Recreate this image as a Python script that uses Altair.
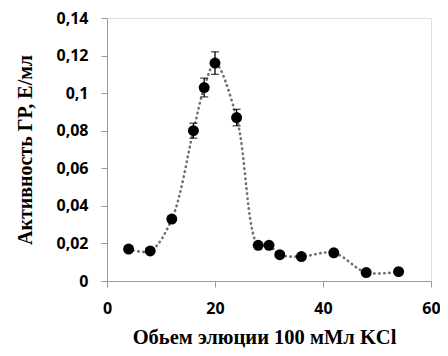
import altair as alt
import pandas as pd

volume = [4, 8, 12, 16, 18, 20, 24, 28, 30, 32, 36, 42, 48, 54]
activity = [0.017, 0.016, 0.033, 0.080, 0.103, 0.116, 0.087, 0.019, 0.019, 0.014, 0.013, 0.015, 0.0045, 0.005]
error = [0.0, 0.0, 0.0, 0.004, 0.005, 0.006, 0.0044, 0.0, 0.0, 0.0, 0.0, 0.0, 0.0, 0.0]

y_ticks = [0, 0.02, 0.04, 0.06, 0.08, 0.10, 0.12, 0.14]
x_ticks = [0, 20, 40, 60]

df = pd.DataFrame({"v": volume, "a": activity, "e": error})
df["lo"] = df["a"] - df["e"]
df["hi"] = df["a"] + df["e"]
err_df = df[df["e"] > 0]

x_scale = alt.Scale(domain=[0, 60], nice=False, zero=True)
y_scale = alt.Scale(domain=[0, 0.14], nice=False)

x_axis = alt.Axis(values=x_ticks, title="Обьем элюции 100 мМл KCl",
                  labelPadding=13, titlePadding=11, labelOverlap=False,
                  titleX=157, titleAlign="center", titleFontSize=20.5)
y_axis = alt.Axis(values=y_ticks, title="Активность ГР, Е/мл",
                  labelExpr="replace(format(datum.value, '~g'), '.', ',')",
                  labelPadding=13, titlePadding=20, labelOverlap=False)

base = alt.Chart(df)

line = base.mark_line(interpolate="catmull-rom", color="#707070", strokeWidth=2.6,
                      strokeDash=[0.5, 4.5], strokeCap="round").encode(
    x=alt.X("v:Q", scale=x_scale, axis=x_axis),
    y=alt.Y("a:Q", scale=y_scale, axis=y_axis),
)

rules = alt.Chart(err_df).mark_rule(color="black", strokeWidth=1.3).encode(
    x=alt.X("v:Q", axis=x_axis), y=alt.Y("lo:Q", axis=y_axis), y2="hi:Q")
caps_hi = alt.Chart(err_df).mark_tick(color="black", thickness=1.3, size=8, orient="horizontal").encode(
    x=alt.X("v:Q", axis=x_axis), y=alt.Y("hi:Q", axis=y_axis))
caps_lo = alt.Chart(err_df).mark_tick(color="black", thickness=1.3, size=8, orient="horizontal").encode(
    x=alt.X("v:Q", axis=x_axis), y=alt.Y("lo:Q", axis=y_axis))

points = base.mark_point(filled=True, shape="circle", color="black", size=120, opacity=1).encode(
    x=alt.X("v:Q", axis=x_axis), y=alt.Y("a:Q", axis=y_axis))

chart = alt.layer(line, rules, caps_hi, caps_lo, points).properties(
    width=324, height=263,
    autosize=alt.AutoSizeParams(type="none"),
    padding={"left": 99, "top": 10, "right": 9, "bottom": 67},
).configure_view(stroke=None).configure(background="white").configure_axis(
    grid=False, labelFont="Open Sans", labelFontWeight="bold", labelFontSize=16,
    labelColor="black", labelOverlap=False, labelFlush=False,
    titleFont="Liberation Serif", titleFontWeight="bold", titleFontSize=20,
    titleColor="black", domainColor="#9a9a9a", tickColor="#9a9a9a", tickSize=6)

chart.save("out.html", embed_options={"renderer": "svg", "actions": False})
